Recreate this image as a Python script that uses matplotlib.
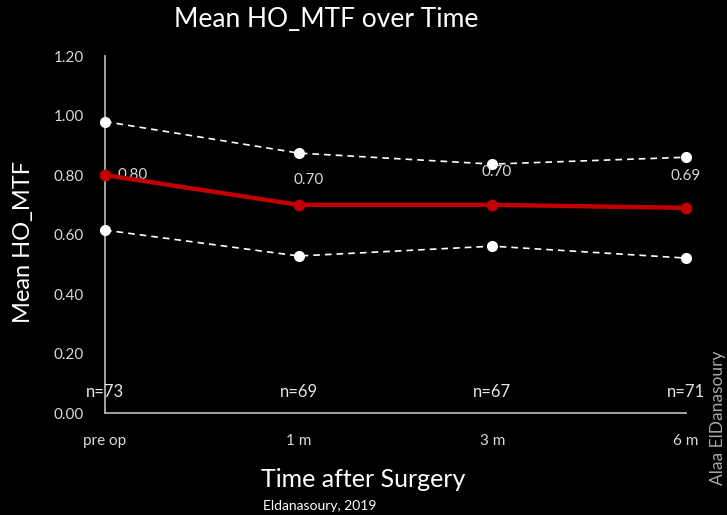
import matplotlib
matplotlib.use("Agg")
import matplotlib.pyplot as plt

categories = ["pre op", "1 m", "3 m", "6 m"]
mean_vals = [0.80, 0.70, 0.70, 0.69]
upper_vals = [0.98, 0.874, 0.837, 0.860]
lower_vals = [0.615, 0.528, 0.561, 0.521]
n_labels = ["n=73", "n=69", "n=67", "n=71"]
yticks = [0.0, 0.2, 0.4, 0.6, 0.8, 1.0, 1.2]

plt.rcParams['font.family'] = ['Lato', 'DejaVu Sans']

fig = plt.figure(figsize=(7.27, 5.15), dpi=100, facecolor='black')
ax = fig.add_axes([0.1444, 0.198, 0.7992, 0.693])
ax.set_facecolor('black')

x = list(range(len(categories)))
ax.plot(x, upper_vals, color='white', lw=1.2, ls=(0, (4, 3)), marker='o',
        ms=7, mfc='white', mec='white', clip_on=False, zorder=3)
ax.plot(x, lower_vals, color='white', lw=1.2, ls=(0, (4, 3)), marker='o',
        ms=7, mfc='white', mec='white', clip_on=False, zorder=3)
ax.plot(x, mean_vals, color='#c00000', lw=3.2, marker='o', ms=7.5,
        mfc='#c00000', mec='#c00000', clip_on=False, zorder=4)

ax.set_xlim(0, 3)
ax.set_ylim(0, 1.2)
ax.set_yticks(yticks)
ax.set_yticklabels([f"{v:.2f}" for v in yticks], color='#d9d9d9', fontsize=11)
ax.tick_params(axis='y', length=0, pad=15)
ax.set_xticks([])

for s in ['top', 'right']:
    ax.spines[s].set_visible(False)
for s in ['left', 'bottom']:
    ax.spines[s].set_color('#bfbfbf')
    ax.spines[s].set_linewidth(1.2)

# value labels (offsets in points relative to the mean point)
label_dx = [9, 7, 3, 0]
label_dy = [0, 18, 24, 23]
for i, v in enumerate(mean_vals):
    if i == 0:
        ax.annotate(f"{v:.2f}", (i, v), xytext=(label_dx[i], 0), textcoords='offset points',
                    ha='left', va='center', color='#d9d9d9', fontsize=11)
    else:
        ax.annotate(f"{v:.2f}", (i, v), xytext=(label_dx[i], label_dy[i]),
                    textcoords='offset points',
                    ha='center', va='center', color='#d9d9d9', fontsize=11)

# n labels
for i, t in enumerate(n_labels):
    ax.annotate(t, (i, 0.07), ha='center', va='center', color='#e6e6e6',
                fontsize=12, annotation_clip=False)

# category labels
for i, c in enumerate(categories):
    ax.annotate(c, (i, 0), xytext=(0, -20), textcoords='offset points',
                ha='center', va='center', color='#d9d9d9', fontsize=11,
                annotation_clip=False)

fig.text(0.449, 0.962, "Mean HO_MTF over Time", color='white', fontsize=19,
         ha='center', va='center')
fig.text(0.033, 0.530, "Mean HO_MTF", color='white', fontsize=17,
         ha='center', va='center', rotation=90)
fig.text(0.5, 0.068, "Time after Surgery", color='white', fontsize=18,
         ha='center', va='center')
fig.text(0.44, 0.017, "Eldanasoury, 2019", color='white', fontsize=10,
         ha='center', va='center')
fig.text(0.987, 0.188, "Alaa ElDanasoury", color='#a6a6a6', fontsize=12.5,
         ha='center', va='center', rotation=90)

fig.savefig("out.png", dpi=100, facecolor='black')
